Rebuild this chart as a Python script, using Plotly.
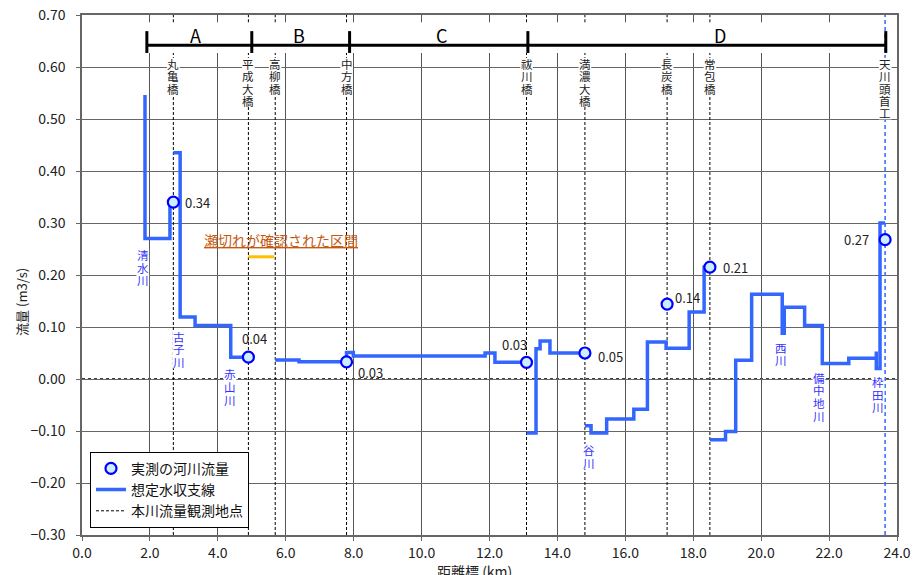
import plotly.graph_objects as go

# ---------------- data ----------------
# assumed water-balance line (step, horizontal-then-vertical), segments separated
seg_km = [
    [1.855, 1.855, 2.59, 2.69],
    [2.69, 2.89, 3.33, 4.38, 4.90],
    [5.69, 6.39, 7.79, 7.99, 11.87, 12.16, 13.09],
    [13.09, 13.37, 13.49, 13.78, 14.81],
    [14.81, 14.99, 15.45, 16.25, 16.65, 17.20, 17.88, 18.32, 18.49],
    [18.49, 18.95, 19.25, 19.72, 20.62, 20.68, 21.28, 21.80, 22.58, 23.39, 23.39, 23.50, 23.65],
]
seg_flow = [
    [0.546, 0.270, 0.340, 0.340],
    [0.435, 0.119, 0.103, 0.042, 0.042],
    [0.0365, 0.033, 0.051, 0.044, 0.050, 0.032, 0.032],
    [-0.104, 0.058, 0.073, 0.050, 0.050],
    [-0.090, -0.104, -0.077, -0.058, 0.071, 0.059, 0.129, 0.215, 0.215],
    [-0.117, -0.101, 0.036, 0.163, 0.088, 0.138, 0.103, 0.030, 0.040, 0.053, 0.020, 0.300, 0.300],
]

# measured river flow
meas_km = [2.69, 4.90, 7.79, 13.09, 14.81, 17.23, 18.49, 23.65]
meas_flow = [0.340, 0.042, 0.033, 0.032, 0.050, 0.144, 0.215, 0.268]
meas_label = ["0.34", "0.04", "0.03", "0.03", "0.05", "0.14", "0.21", "0.27"]

# main-river observation points (bridges)
bridge_names = ["丸亀橋", "平成大橋", "高柳橋", "中方橋", "祓川橋", "満濃大橋", "長炭橋", "常包橋", "天川頭首工"]
bridge_km = [2.69, 4.90, 5.69, 7.79, 13.09, 14.81, 17.23, 18.49, 23.65]

# tributaries
trib_names = ["清水川", "古子川", "赤山川", "谷川", "西川", "備中地川", "枠田川"]
trib_km = [1.79, 2.86, 4.36, 14.93, 20.57, 21.70, 23.44]
trib_top = [0.2385, 0.0813, 0.0090, -0.137, 0.0602, 0.0025, -0.0058]

# sections
section_names = ["A", "B", "C", "D"]
section_bounds = [1.91, 5.00, 7.88, 13.13, 23.67]

# dried-up reach
dry_km = [4.90, 5.66]
dry_flow = 0.235

x_ticks = [0, 2, 4, 6, 8, 10, 12, 14, 16, 18, 20, 22, 24]
y_ticks = [-0.3, -0.2, -0.1, 0.0, 0.1, 0.2, 0.3, 0.4, 0.5, 0.6, 0.7]

# ---------------- styling ----------------
FONT = "Noto Sans CJK JP"
BLUE = "#3366ff"
YMIN, YMAX = -0.30, 0.70
XMIN, XMAX = 0, 24
PX = 520 / (YMAX - YMIN)   # pixels per unit flow
PXX = 815 / (XMAX - XMIN)  # pixels per km

fig = go.Figure()

# observation dashed lines (black), broken behind the section bar
obs_x, obs_y = [], []
for name, km in zip(bridge_names, bridge_km):
    if name == "天川頭首工":
        continue
    obs_x += [km, km, None, km, km, None]
    obs_y += [YMIN, 0.627, None, 0.686, YMAX, None]
fig.add_trace(go.Scatter(x=obs_x, y=obs_y, mode="lines", name="本川流量観測地点",
                         line=dict(color="black", width=1, dash="3px,2px"),
                         legendrank=3, hoverinfo="skip"))
# headworks line (blue dashed)
hw = bridge_km[bridge_names.index("天川頭首工")]
fig.add_trace(go.Scatter(x=[hw, hw], y=[YMIN, YMAX], mode="lines", showlegend=False,
                         line=dict(color=BLUE, width=1.5, dash="4px,3px"), hoverinfo="skip"))

# water balance line
lx, ly = [], []
for xs, ys in zip(seg_km, seg_flow):
    lx += xs + [None]
    ly += ys + [None]
fig.add_trace(go.Scatter(x=lx, y=ly, mode="lines", line_shape="hv", name="想定水収支線",
                         line=dict(color=BLUE, width=3.5), legendrank=2, connectgaps=False))

# dried-up reach
fig.add_trace(go.Scatter(x=dry_km, y=[dry_flow, dry_flow], mode="lines", showlegend=False,
                         line=dict(color="#ffc000", width=3)))

# measured points
fig.add_trace(go.Scatter(x=meas_km, y=meas_flow, mode="markers", name="実測の河川流量",
                         marker=dict(symbol="circle", size=11, color="#cdeeff",
                                     line=dict(color="#0000ff", width=2.2)),
                         legendrank=1))

annotations = []
shapes = []

# measured labels
offsets = [("left", 10, 0), ("center", 6, 19), ("left", 9, -11), ("center", -12, 18),
           ("left", 11, -3), ("left", 6, 7), ("left", 11, 0), ("right", -14, 0)]
for km, v, t, (xa, dx, dy) in zip(meas_km, meas_flow, meas_label, offsets):
    annotations.append(dict(x=km, y=v, text=t, showarrow=False, xanchor=xa, yanchor="middle",
                            xshift=dx, yshift=dy, font=dict(family=FONT, size=13, color="#222")))


def vertical_text(text, km, top, step_px, color, size):
    n = len(text)
    half_w = (size * 0.55) / PXX
    # white backing behind the column of characters
    shapes.append(dict(type="rect", xref="x", yref="y", x0=km - half_w, x1=km + half_w,
                       y0=top - ((n - 1) * step_px + step_px / 2) / PX,
                       y1=top + (step_px / 2) / PX,
                       fillcolor="white", line=dict(width=0), layer="above"))
    for i, ch in enumerate(text):
        annotations.append(dict(x=km, y=top - i * step_px / PX, text=ch, showarrow=False,
                                xanchor="center", yanchor="middle",
                                font=dict(family=FONT, size=size, color=color)))


for name, km in zip(bridge_names, bridge_km):
    vertical_text(name, km, 0.6058, 12.3, "#222", 11.5)

for name, km, top in zip(trib_names, trib_km, trib_top):
    vertical_text(name, km, top, 12.6, "#3333ff", 11.5)

# section labels
sec_label_x = [3.35, 6.40, 10.60, 18.80]
for name, xk in zip(section_names, sec_label_x):
    annotations.append(dict(x=xk, y=0.6625, text=name, showarrow=False, xanchor="center",
                            yanchor="middle", font=dict(family=FONT, size=18, color="black")))

# dried-up reach label
annotations.append(dict(x=5.85, y=0.267, text="<u>瀬切れが確認された区間</u>", showarrow=False,
                        xanchor="center", yanchor="middle",
                        font=dict(family=FONT, size=14, color="#c55a11")))

# axis titles
annotations.append(dict(xref="paper", yref="paper", x=-0.075, y=0.448, text="流量 (m3/s)",
                        textangle=-90, showarrow=False, xanchor="center", yanchor="middle",
                        font=dict(family=FONT, size=13, color="#222")))
annotations.append(dict(xref="paper", yref="paper", x=0.481, y=-0.069, text="距離標 (km)",
                        showarrow=False, xanchor="center", yanchor="middle",
                        font=dict(family=FONT, size=14, color="#222")))

# white band behind section bar
shapes.append(dict(type="rect", xref="x", yref="y", x0=1.0, x1=23.95, y0=0.627, y1=0.686,
                   fillcolor="white", line=dict(width=0), layer="between"))
# zero line (dotted)
shapes.append(dict(type="line", xref="paper", yref="y", x0=0, x1=1, y0=0, y1=0,
                   line=dict(color="black", width=1.6, dash="dot"), layer="between"))
# section bar
shapes.append(dict(type="line", x0=section_bounds[0], x1=section_bounds[-1], y0=0.642, y1=0.642,
                   line=dict(color="black", width=3), layer="above"))
for b in section_bounds:
    shapes.append(dict(type="line", x0=b, x1=b, y0=0.627, y1=0.669,
                       line=dict(color="black", width=3), layer="above"))

fig.update_layout(
    width=915, height=575, autosize=False,
    margin=dict(l=82, r=18, t=15, b=40, pad=0),
    paper_bgcolor="white", plot_bgcolor="white",
    font=dict(family=FONT, size=14, color="#222"),
    showlegend=True,
    legend=dict(x=0.0098, y=0.16, xanchor="left", yanchor="top", bgcolor="white",
                bordercolor="black", borderwidth=1, font=dict(family=FONT, size=14, color="#111"),
                itemwidth=30, tracegroupgap=0),
    annotations=annotations,
    shapes=shapes,
)
fig.update_xaxes(range=[XMIN, XMAX], tickvals=x_ticks, ticktext=[f"{v:.1f}" for v in x_ticks],
                 showgrid=True, gridcolor="#555", gridwidth=1, showline=True, linecolor="#666",
                 linewidth=1.5, mirror=True, ticks="outside", ticklen=4, tickcolor="#666",
                 zeroline=False, automargin=False,
                 tickfont=dict(family=FONT, size=14, color="#222"))
fig.update_yaxes(range=[YMIN, YMAX], tickvals=y_ticks,
                 ticktext=[f"{v:.2f}".replace("-", "−") for v in y_ticks],
                 showgrid=True, gridcolor="#666", gridwidth=1, showline=True, linecolor="#666",
                 linewidth=1.5, mirror=True, ticks="outside", ticklen=4, tickcolor="#666",
                 zeroline=False, ticklabelstandoff=8, automargin=False,
                 tickfont=dict(family=FONT, size=14, color="#222"))

fig.write_html("out.html", config={"displayModeBar": False},
               post_script="document.body.style.margin='0';document.body.style.overflow='hidden';")
